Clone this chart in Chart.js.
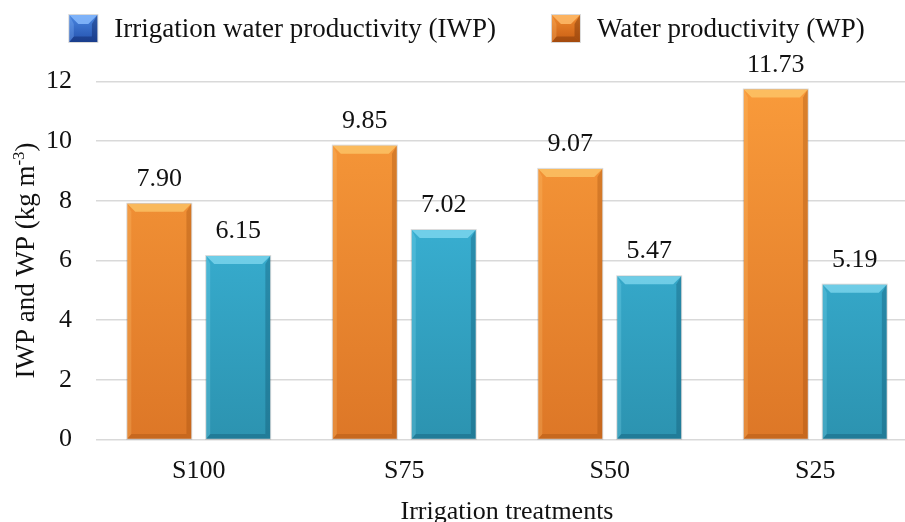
<!DOCTYPE html>
<html><head><meta charset="utf-8">
<script src="https://cdn.jsdelivr.net/npm/chart.js@4"></script>
<style>
html,body{margin:0;padding:0;background:#fff;overflow:hidden}
#wrap{width:905px;height:522px;overflow:hidden;position:relative}
canvas{display:block}
</style></head>
<body><div id="wrap"><canvas id="c" width="928" height="528"></canvas></div>
<script>
// ---- data ----
const categories = ['S100', 'S75', 'S50', 'S25'];
const wpValues = [7.90, 9.85, 9.07, 11.73];
const iwpValues = [6.15, 7.02, 5.47, 5.19];
const wpName = 'Water productivity (WP)';
const iwpName = 'Irrigation water productivity (IWP)';
const yTickMin = 0, yTickMax = 12, yTickStep = 2;
const xTitle = 'Irrigation treatments';
const yTitleMain = 'IWP and WP (kg m';
const yTitleSup = '-3';
const yTitleEnd = ')';

// ---- styles ----
const FONT = '"Liberation Serif", "Times New Roman", serif';
const TXT = '#111';
const W = 928, H = 528;
const styles = {
  wp:  {top:'#F99B3B', bottom:'#DD7727', hi:'rgba(255,214,120,0.6)', dark:'rgba(150,70,10,0.3)', light:'rgba(255,200,120,0.25)'},
  iwp: {top:'#40C0E6', bottom:'#2C93B0', hi:'rgba(150,230,250,0.6)', dark:'rgba(10,70,95,0.3)', light:'rgba(150,230,250,0.22)'}
};
const legendStyles = {
  iwp: {top:'#4A86E0', bottom:'#2452AE', hi:'rgba(140,190,255,0.8)', dark:'rgba(10,30,90,0.4)', light:'rgba(140,190,255,0.3)'},
  wp:  {top:'#F08A2E', bottom:'#C85E14', hi:'rgba(255,190,110,0.8)', dark:'rgba(110,45,5,0.4)', light:'rgba(255,190,110,0.3)'}
};

function grad(st){
  return (ctx) => {
    const a = ctx.chart.chartArea;
    if (!a) return st.top;
    const g = ctx.chart.ctx.createLinearGradient(0, a.top, 0, a.bottom);
    g.addColorStop(0, st.top); g.addColorStop(1, st.bottom);
    return g;
  };
}

function drawBevel(c, l, t, r, b, st, s){
  c.save();
  c.fillStyle = st.hi;
  c.beginPath(); c.moveTo(l,t); c.lineTo(r,t); c.lineTo(r-s,t+s); c.lineTo(l+s,t+s); c.closePath(); c.fill();
  c.fillStyle = st.dark;
  c.beginPath(); c.moveTo(r,t); c.lineTo(r,b); c.lineTo(r-s*0.6,b-s*0.6); c.lineTo(r-s*0.6,t+s); c.closePath(); c.fill();
  c.beginPath(); c.moveTo(l,b); c.lineTo(r,b); c.lineTo(r-s*0.6,b-s*0.6); c.lineTo(l+s*0.5,b-s*0.6); c.closePath(); c.fill();
  c.fillStyle = st.light;
  c.beginPath(); c.moveTo(l,t); c.lineTo(l+s*0.5,t+s); c.lineTo(l+s*0.5,b-s*0.6); c.lineTo(l,b); c.closePath(); c.fill();
  c.strokeStyle = 'rgba(0,0,0,0.15)'; c.lineWidth = 1;
  c.strokeRect(l-0.5, t-0.5, r-l+1, b-t+1);
  c.restore();
}

const bevelPlugin = {
  id: 'bevel',
  afterDatasetsDraw(chart){
    const c = chart.ctx;
    chart.data.datasets.forEach((ds, i) => {
      const st = ds.key === 'wp' ? styles.wp : styles.iwp;
      chart.getDatasetMeta(i).data.forEach(bar => {
        const p = bar.getProps(['x','y','base','width'], true);
        drawBevel(c, p.x - p.width/2, p.y, p.x + p.width/2, p.base, st, 8);
      });
    });
  }
};

const labelPlugin = {
  id: 'valueLabels',
  afterDatasetsDraw(chart){
    const c = chart.ctx;
    c.save();
    c.font = '26px ' + FONT; c.fillStyle = TXT; c.textAlign = 'center'; c.textBaseline = 'alphabetic';
    chart.data.datasets.forEach((ds, i) => {
      chart.getDatasetMeta(i).data.forEach((bar, j) => {
        c.fillText(ds.data[j].toFixed(2), bar.x, bar.y - 18);
      });
    });
    c.restore();
  }
};

const legendPlugin = {
  id: 'customLegend',
  afterDraw(chart){
    const c = chart.ctx;
    c.save();
    c.font = '27px ' + FONT;
    const order = [1, 0]; // IWP first, then WP
    const box = 28, gap = 17, spacing = 56;
    const items = order.map(i => ({ds: chart.data.datasets[i], w: c.measureText(chart.data.datasets[i].label).width}));
    const total = items.reduce((s, it) => s + box + gap + it.w, 0) + spacing * (items.length - 1);
    let x = 467 - total/2;
    const yc = 28.5;
    items.forEach(it => {
      const st = it.ds.key === 'wp' ? legendStyles.wp : legendStyles.iwp;
      const g = c.createLinearGradient(0, yc - box/2, 0, yc + box/2);
      g.addColorStop(0, st.top); g.addColorStop(1, st.bottom);
      c.fillStyle = g;
      c.fillRect(x, yc - 13.5, box, 27);
      drawBevel(c, x, yc - 13.5, x + box, yc + 13.5, st, 9);
      c.fillStyle = TXT; c.textAlign = 'left'; c.textBaseline = 'middle';
      c.fillText(it.ds.label, x + box + gap, yc + 1);
      x += box + gap + it.w + spacing;
    });
    c.restore();
  }
};

const yTitlePlugin = {
  id: 'yTitle',
  afterDraw(chart){
    const c = chart.ctx, a = chart.chartArea;
    c.save();
    const big = '27px ' + FONT, small = '17px ' + FONT;
    c.font = big; const w1 = c.measureText(yTitleMain).width; const w3 = c.measureText(yTitleEnd).width;
    c.font = small; const w2 = c.measureText(yTitleSup).width;
    const total = w1 + w2 + w3;
    c.translate(34, (a.top + a.bottom) / 2);
    c.rotate(-Math.PI / 2);
    c.fillStyle = TXT; c.textAlign = 'left'; c.textBaseline = 'alphabetic';
    let x = -total / 2;
    c.font = big; c.fillText(yTitleMain, x, 0); x += w1;
    c.font = small; c.fillText(yTitleSup, x, -10); x += w2;
    c.font = big; c.fillText(yTitleEnd, x, 0);
    c.restore();
  }
};

new Chart(document.getElementById('c'), {
  type: 'bar',
  data: {
    labels: categories,
    datasets: [
      {key: 'wp', label: wpName, data: wpValues, backgroundColor: grad(styles.wp), borderWidth: 0,
       categoryPercentage: 0.768, barPercentage: 0.81},
      {key: 'iwp', label: iwpName, data: iwpValues, backgroundColor: grad(styles.iwp), borderWidth: 0,
       categoryPercentage: 0.768, barPercentage: 0.81}
    ]
  },
  options: {
    responsive: false,
    animation: false,
    layout: {padding: {top: 81.5, right: 10, left: 0, bottom: 0}},
    plugins: {legend: {display: false}, tooltip: {enabled: false}},
    scales: {
      x: {
        offset: true,
        grid: {display: false, drawTicks: false},
        border: {display: false},
        ticks: {font: {family: FONT, size: 26}, color: TXT, padding: 16},
        title: {display: true, text: xTitle, font: {family: FONT, size: 26}, color: TXT, padding: {top: 0, bottom: 0}},
        afterFit(s){ s.height = H - 439.5; }
      },
      y: {
        min: yTickMin, max: yTickMax,
        ticks: {stepSize: yTickStep, font: {family: FONT, size: 26}, color: TXT, padding: 24},
        grid: {color: '#d9d9d9', lineWidth: 1.5, drawTicks: false},
        border: {display: false},
        afterFit(s){ s.width = 96; }
      }
    }
  },
  plugins: [bevelPlugin, labelPlugin, legendPlugin, yTitlePlugin]
});
</script>
</body></html>
